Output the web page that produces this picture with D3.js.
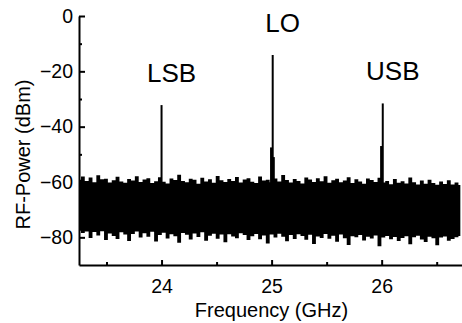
<!DOCTYPE html>
<html>
<head>
<meta charset="utf-8">
<script src="https://cdn.jsdelivr.net/npm/d3@7"></script>
<style>
  body { margin: 0; background: #fff; }
  svg { display: block; font-family: "Liberation Sans", Arial, sans-serif; }
</style>
</head>
<body>
<div id="chart"></div>
<script>
// x axis
const xDomain = [23.25, 26.73];
const xMajorTicks = [24, 25, 26];
const xMinorTicks = [23.5, 24.5, 25.5, 26.5];

// y axis
const yDomain = [-90, 0];
const yMajorTicks = [0, -20, -40, -60, -80];
const yMinorTicks = [-10, -30, -50, -70];

// noise floor envelope, sampled every 0.035 GHz from 23.25 GHz
const noiseStart = 23.25;
const noiseStep = 0.035;
const noiseTop = [
  -59.2,-58.0,-59.6,-58.4,-60.1,-57.6,-59.0,-58.8,-60.2,-59.4,
  -58.1,-59.8,-60.3,-58.9,-59.5,-57.9,-60.0,-59.1,-58.6,-60.4,
  -59.7,-58.3,-59.9,-60.5,-58.7,-59.3,-57.4,-59.6,-60.1,-58.8,
  -59.2,-60.6,-58.5,-59.8,-59.0,-60.3,-57.8,-59.4,-60.0,-58.9,
  -59.6,-58.2,-60.2,-59.1,-58.6,-59.9,-60.4,-58.0,-59.5,-59.2,
  -60.1,-58.7,-59.8,-57.5,-59.3,-60.2,-58.9,-59.6,-60.5,-58.4,
  -59.1,-60.0,-58.6,-59.7,-57.9,-60.3,-59.4,-58.8,-60.1,-59.5,
  -58.3,-60.4,-59.0,-59.8,-60.6,-58.7,-59.3,-60.0,-58.5,-60.2,
  -59.6,-60.8,-58.9,-60.3,-59.7,-60.5,-58.4,-60.1,-60.9,-59.5,
  -60.6,-59.2,-60.4,-61.0,-59.8,-60.7,-59.4,-60.9,-60.2,-61.1
];
const noiseBottom = [
  -77.6,-78.4,-77.9,-80.2,-78.1,-79.3,-77.8,-81.0,-78.6,-79.5,
  -80.6,-78.2,-79.0,-81.3,-78.8,-77.9,-80.1,-78.5,-79.8,-78.0,
  -81.5,-79.2,-78.3,-80.4,-78.9,-79.6,-82.0,-78.4,-79.1,-80.8,
  -78.6,-79.9,-78.2,-81.2,-79.4,-78.7,-80.5,-79.0,-81.8,-78.9,
  -79.7,-80.3,-78.5,-79.2,-81.0,-79.6,-78.8,-80.7,-79.3,-82.2,
  -79.0,-80.1,-78.7,-79.8,-81.4,-79.2,-80.6,-78.9,-79.5,-80.9,
  -79.1,-82.4,-79.7,-80.2,-78.8,-80.5,-79.4,-81.6,-79.0,-80.3,
  -82.8,-79.6,-80.0,-79.2,-81.1,-79.8,-80.4,-79.3,-83.2,-80.1,
  -79.5,-80.7,-79.9,-81.3,-80.2,-79.6,-82.5,-80.0,-79.4,-80.8,
  -81.7,-79.8,-80.3,-82.9,-80.1,-79.7,-81.2,-80.6,-80.0,-79.5
];

// tones
const peakFreqs = [24.0, 25.01, 26.01];
const peakPower = [-32.2, -14.1, -31.6];
const peakNames = ["LSB", "LO", "USB"];
const spurFreqs = [24.995, 25.02, 25.995];
const spurPower = [-47.5, -51.0, -47.0];

const width = 462, height = 323;
const margins = { top: 16, right: 0, bottom: 58, left: 79 };

const svg = d3.select("#chart").append("svg")
  .attr("width", width)
  .attr("height", height);

const xScale = d3.scaleLinear()
  .domain(xDomain)
  .range([margins.left, width - margins.right]);

const yScale = d3.scaleLinear()
  .domain(yDomain)
  .range([height - margins.bottom, margins.top]);

// noise floor
const noiseData = noiseTop.map((t, i) => ({
  f: noiseStart + i * noiseStep,
  top: t,
  bottom: noiseBottom[i]
}));

svg.append("path")
  .datum(noiseData)
  .attr("fill", "#000")
  .attr("d", d3.area()
    .curve(d3.curveStep)
    .x(d => xScale(d.f))
    .y0(d => yScale(d.bottom))
    .y1(d => yScale(d.top)));

// spurs next to the tones
svg.selectAll(".spur")
  .data(spurFreqs)
  .join("line")
  .attr("class", "spur")
  .attr("x1", d => xScale(d))
  .attr("x2", d => xScale(d))
  .attr("y1", yScale(-70))
  .attr("y2", (d, i) => yScale(spurPower[i]))
  .attr("stroke", "#000")
  .attr("stroke-width", 2);

// tones
svg.selectAll(".peak")
  .data(peakFreqs)
  .join("line")
  .attr("class", "peak")
  .attr("x1", d => xScale(d))
  .attr("x2", d => xScale(d))
  .attr("y1", yScale(-70))
  .attr("y2", (d, i) => yScale(peakPower[i]))
  .attr("stroke", "#000")
  .attr("stroke-width", 2);

// tone labels
svg.selectAll(".peak-label")
  .data(peakFreqs)
  .join("text")
  .attr("class", "peak-label")
  .attr("x", d => xScale(d) + 10)
  .attr("y", (d, i) => yScale(peakPower[i]) - 23)
  .attr("text-anchor", "middle")
  .attr("font-size", 26)
  .text((d, i) => peakNames[i]);

// axes
const yAxisGroup = svg.append("g")
  .attr("transform", `translate(${margins.left},0)`);
yAxisGroup.call(d3.axisLeft(yScale)
  .tickValues(yMajorTicks)
  .tickSizeInner(-6).tickSizeOuter(0).tickPadding(6));

const yMinorGroup = svg.append("g")
  .attr("transform", `translate(${margins.left},0)`);
yMinorGroup.call(d3.axisLeft(yScale)
  .tickValues(yMinorTicks)
  .tickSizeInner(-3).tickSizeOuter(0).tickFormat(""));
yMinorGroup.select(".domain").remove();

const xAxisGroup = svg.append("g")
  .attr("transform", `translate(0,${height - margins.bottom})`);
xAxisGroup.call(d3.axisBottom(xScale)
  .tickValues(xMajorTicks)
  .tickFormat(d3.format("d"))
  .tickSizeInner(-5).tickSizeOuter(0).tickPadding(14));

const xMinorGroup = svg.append("g")
  .attr("transform", `translate(0,${height - margins.bottom})`);
xMinorGroup.call(d3.axisBottom(xScale)
  .tickValues(xMinorTicks)
  .tickSizeInner(-3).tickSizeOuter(0).tickFormat(""));
xMinorGroup.select(".domain").remove();

svg.selectAll(".domain, .tick line")
  .attr("stroke", "#000")
  .attr("stroke-width", 2);

svg.selectAll(".tick text")
  .attr("font-size", 19.5)
  .attr("font-family", "Liberation Sans, Arial, sans-serif")
  .attr("fill", "#000");

// axis titles
svg.append("text")
  .attr("x", (margins.left + width) / 2 + 1)
  .attr("y", height - 6)
  .attr("text-anchor", "middle")
  .attr("font-size", 20)
  .text("Frequency (GHz)");

svg.append("text")
  .attr("transform", `translate(30,${(margins.top + height - margins.bottom) / 2 + 14}) rotate(-90)`)
  .attr("text-anchor", "middle")
  .attr("font-size", 20)
  .text("RF-Power (dBm)");
</script>
</body>
</html>
